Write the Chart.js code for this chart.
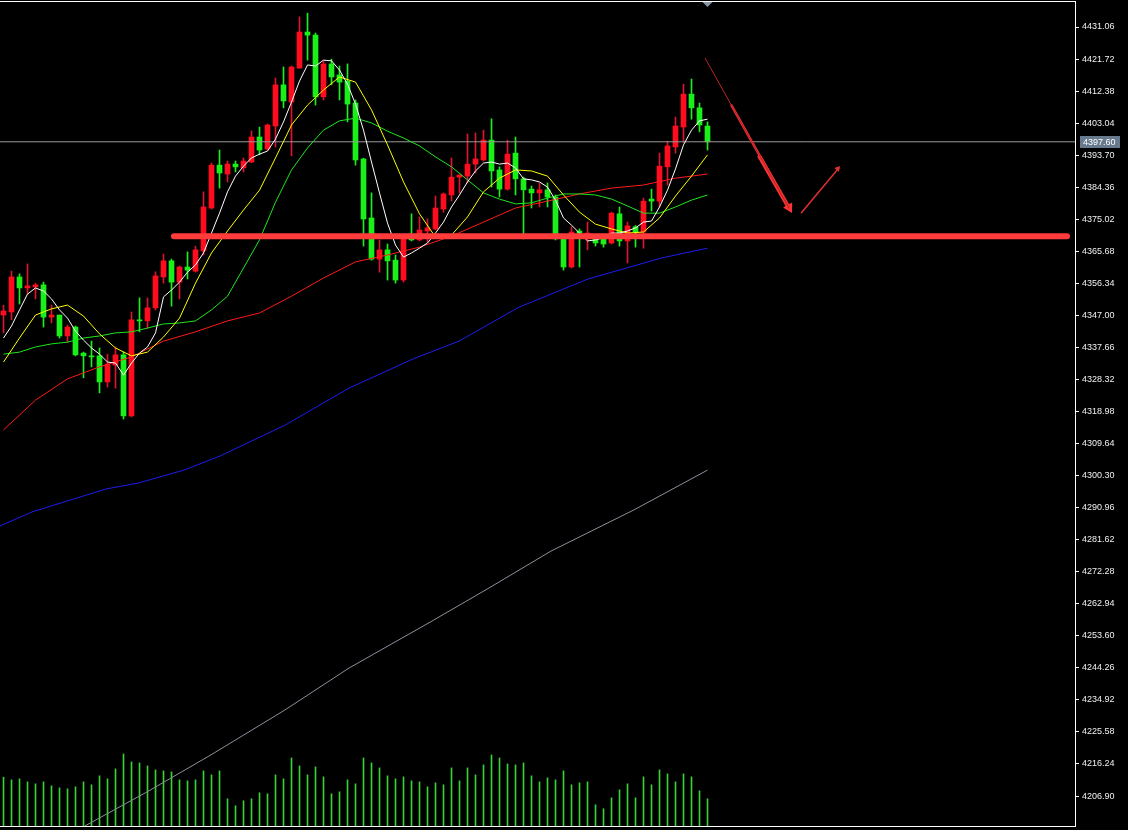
<!DOCTYPE html>
<html>
<head>
<meta charset="utf-8">
<script src="https://cdn.jsdelivr.net/npm/chart.js@4.4.0/dist/chart.umd.min.js"></script>
<style>
  html, body { margin: 0; padding: 0; background: #000; }
  canvas { display: block; }
</style>
</head>
<body>
<canvas id="chart" width="1128" height="830"></canvas>
<script>
// candles, oldest first (red = up, green = down)
const open = [4347.1,4348.0,4358.2,4355.0,4355.3,4355.9,4346.5,4347.1,4341.0,4343.6,
  4336.0,4335.2,4335.2,4327.6,4332.5,4335.5,4317.7,4345.7,4345.4,4349.2,
  4358.2,4362.9,4356.7,4361.1,4359.9,4365.8,4378.3,4390.8,4388.2,4391.1,
  4390.0,4391.7,4399.0,4395.5,4402.2,4414.2,4409.2,4419.1,4429.6,4428.7,
  4410.7,4420.3,4417.1,4415.3,4408.9,4392.6,4375.4,4363.4,4366.1,4363.1,
  4357.3,4369.6,4369.0,4371.6,4372.2,4378.0,4382.1,4387.3,4387.6,4391.1,
  4392.3,4398.1,4389.4,4383.8,4394.3,4386.8,4383.8,4382.7,4383.6,4381.5,
  4369.3,4361.1,4371.6,4370.1,4369.9,4369.6,4368.1,4376.6,4368.7,4372.8,
  4371.3,4380.9,4380.3,4390.3,4396.1,4401.9,4411.5,4407.5,4402.2];
const high = [4350.0,4359.9,4359.1,4362.0,4356.4,4356.7,4350.0,4347.1,4344.2,4343.9,
  4336.3,4339.5,4337.5,4335.7,4337.8,4336.3,4348.0,4352.1,4352.1,4359.7,
  4364.9,4363.4,4361.4,4365.5,4367.2,4383.0,4391.4,4395.2,4392.0,4392.0,
  4392.9,4400.8,4401.9,4402.8,4416.2,4419.4,4419.7,4434.0,4435.1,4429.3,
  4421.2,4421.7,4419.7,4420.3,4409.8,4392.8,4382.7,4369.0,4367.8,4364.6,
  4369.4,4376.6,4375.7,4375.1,4381.8,4382.7,4392.9,4388.0,4399.9,4400.2,
  4401.0,4404.3,4390.3,4398.1,4399.0,4387.3,4384.7,4385.6,4385.6,4382.1,
  4369.4,4372.8,4372.2,4374.2,4370.4,4370.7,4377.1,4378.6,4374.2,4373.2,
  4381.2,4383.8,4394.3,4397.8,4404.8,4414.4,4415.9,4408.9,4403.4];
const low = [4341.9,4345.7,4350.3,4353.2,4351.8,4343.6,4344.8,4340.4,4339.2,4335.2,
  4328.8,4332.0,4324.4,4326.1,4325.8,4316.8,4317.4,4342.2,4343.3,4348.6,
  4356.4,4349.7,4351.8,4357.6,4359.6,4364.6,4378.0,4384.1,4385.9,4388.8,
  4388.8,4391.5,4393.8,4395.2,4396.1,4407.5,4393.5,4419.0,4421.4,4408.3,
  4409.8,4414.2,4409.8,4403.4,4390.8,4367.2,4363.1,4359.6,4357.3,4356.4,
  4356.7,4368.7,4368.7,4368.4,4371.9,4377.1,4380.3,4382.7,4385.6,4388.5,
  4392.0,4384.4,4381.5,4383.5,4382.1,4369.3,4378.3,4378.6,4378.6,4369.0,
  4360.2,4360.8,4361.1,4366.1,4367.2,4366.9,4367.8,4367.2,4362.3,4366.9,
  4366.6,4377.4,4378.6,4385.0,4394.3,4397.5,4404.2,4400.5,4395.2];
const close = [4348.3,4358.2,4355.0,4355.6,4355.9,4346.5,4347.1,4341.0,4343.6,4335.5,
  4335.2,4334.9,4327.6,4332.8,4335.5,4317.7,4345.7,4345.4,4349.2,4358.5,
  4362.9,4356.7,4361.1,4360.2,4366.1,4378.6,4390.8,4388.5,4391.1,4390.3,
  4392.0,4399.0,4395.2,4402.5,4414.2,4409.5,4419.4,4429.6,4428.7,4410.7,
  4420.3,4416.5,4415.0,4408.6,4392.3,4375.1,4363.4,4366.1,4362.9,4357.3,
  4369.3,4369.0,4371.9,4372.5,4378.3,4382.4,4387.3,4387.9,4391.1,4392.6,
  4398.1,4389.1,4383.8,4394.0,4386.8,4383.6,4382.7,4383.6,4381.5,4369.3,
  4361.1,4371.3,4371.0,4371.0,4368.1,4367.8,4376.8,4368.7,4373.1,4371.3,
  4380.3,4380.3,4390.5,4396.4,4402.2,4411.5,4407.5,4402.5,4397.6];
const volume = [147,139,142,133,127,133,121,115,112,118,
  133,124,151,142,172,217,193,190,181,169,
  166,163,139,136,139,166,154,166,82,61,
  76,82,100,97,154,142,205,181,154,178,
  148,97,103,139,127,205,190,175,151,142,
  148,136,133,118,130,124,175,136,175,154,
  184,214,205,187,184,190,151,133,145,139,
  166,124,130,133,64,52,85,109,127,85,
  148,124,169,157,133,157,148,106,82];

// moving averages
const maWhite = [4340.4,4343.9,4348.6,4353.2,4355.0,4354.1,4351.8,4348.6,4346.2,4342.4,
  4339.8,4337.5,4335.7,4333.4,4333.1,4329.6,4333.1,4336.0,4337.8,4341.9,
  4352.4,4354.4,4356.7,4359.6,4361.7,4365.2,4371.0,4376.8,4383.0,4387.6,
  4390.5,4392.9,4394.0,4394.9,4398.4,4403.4,4409.2,4415.3,4420.0,4419.7,
  4421.4,4421.2,4418.5,4414.4,4408.6,4401.0,4391.7,4382.7,4373.9,4367.5,
  4364.0,4365.2,4366.6,4368.1,4371.0,4374.2,4378.6,4382.1,4385.9,4389.1,
  4391.4,4391.7,4391.1,4391.4,4390.0,4386.8,4386.5,4385.9,4384.4,4380.6,
  4375.4,4373.3,4371.0,4368.7,4369.0,4369.6,4371.0,4371.0,4371.6,4372.5,
  4374.2,4374.5,4378.6,4383.5,4389.7,4396.7,4401.0,4403.7,4404.2];
// every 2nd candle
const maYellow = [4333.4,4340.4,4347.1,4348.9,4350.0,4346.8,4341.6,4337.5,4335.2,4336.3,
  4340.7,4346.2,4356.4,4365.2,4371.6,4377.7,4383.5,4392.9,4402.5,4408.3,
  4412.7,4416.5,4415.0,4406.9,4396.7,4385.9,4376.6,4369.8,4370.4,4375.7,
  4383.0,4387.0,4389.4,4389.1,4387.6,4382.1,4377.1,4373.6,4372.2,4371.0,
  4371.3,4375.4,4381.8,4387.6,4393.8];
const maGreen = [4335.7,4336.3,4337.8,4338.7,4339.2,4340.4,4341.0,4341.9,4342.2,4343.3,
  4344.5,4344.8,4345.4,4348.6,4352.6,4360.8,4369.0,4380.0,4389.4,4395.8,
  4401.0,4403.7,4404.5,4403.1,4400.7,4398.7,4396.4,4393.2,4390.3,4386.5,
  4382.7,4380.9,4379.5,4379.8,4381.2,4382.4,4382.4,4382.1,4380.9,4378.9,
  4376.8,4376.8,4378.6,4380.6,4382.1];
// every 4th candle
const maRed = [4313.6,4322.3,4328.5,4332.0,4334.9,4339.5,4342.2,4345.4,4347.7,4352.6,
  4357.9,4362.6,4364.6,4366.9,4370.1,4374.2,4378.3,4380.3,4382.4,4384.1,
  4385.0,4387.0,4388.2];
const blueAt = [-0.44,3.56,7.56,12.81,16.81,22.56,27.06,35.19,43.19,51.19,56.94,64.44,73.06,82.19,88];
const maBlue = [4285.6,4289.7,4292.6,4296.4,4298.1,4301.9,4306.0,4315.0,4325.8,4334.3,4339.5,4349.4,4357.6,4363.7,4366.6];
const grayAt = [10.19,17.94,25.94,35.19,43.19,53.56,60.44,68.44,78.81,88];
const maGray = [4198.2,4208.1,4218.9,4232.0,4244.2,4257.9,4267.2,4278.3,4290.3,4301.9];

// hand drawn objects
const supportLevel = 4370.1;
const supportAt = [21.31, 132.94];
// down arrow: overlapping strokes, each from its start to the tip, so it thickens towards the tip
const shaftFromAt = [87.69, 91.0, 94.5];
const shaftFromY = [4422.0, 4408.2, 4393.3];
const shaftWidth = [1, 2.5, 4];
const shaftColor = ['#b82424', '#f03030', '#ff3434'];
const tipAt = 98.19, tipY = 4378.3;
const arrowUpAt = [99.69, 104.31];
const arrowUpY = [4376.8, 4389.7];
const headAt = [98.2, 104.29];
const headY = [4378.4, 4389.8];

const priceTicks = [4431.06,4421.72,4412.38,4403.04,4393.70,4384.36,4375.02,4365.68,4356.34,4347.00,
  4337.66,4328.32,4318.98,4309.64,4300.30,4290.96,4281.62,4272.28,4262.94,4253.60,
  4244.26,4234.92,4225.58,4216.24,4206.90];

const idx = open.map((_, i) => i);
const lastClose = close[close.length - 1];
const up = i => close[i] >= open[i];

const chartFrame = {
  id: 'chartFrame',
  beforeDraw(chart) {
    const ctx = chart.ctx;
    ctx.save();
    ctx.fillStyle = '#000';
    ctx.fillRect(0, 0, chart.width, chart.height);
    ctx.restore();
  },
  afterDraw(chart) {
    const { ctx, chartArea: a, scales } = chart;
    ctx.save();
    ctx.strokeStyle = '#fff';
    ctx.lineWidth = 1;
    ctx.beginPath();
    ctx.moveTo(0, a.top - 0.5); ctx.lineTo(a.right + 1, a.top - 0.5);
    ctx.moveTo(0, a.bottom + 0.5); ctx.lineTo(a.right + 1, a.bottom + 0.5);
    ctx.stroke();

    // last price tag
    const py = Math.round(scales.y.getPixelForValue(lastClose));
    ctx.fillStyle = '#687b8e';
    ctx.fillRect(a.right + 5, py - 6, 40, 12);
    ctx.fillStyle = '#fff';
    ctx.font = '9px "Liberation Sans", Arial, sans-serif';
    ctx.textBaseline = 'middle';
    ctx.fillText(lastClose.toFixed(2), a.right + 8, py + 0.5);

    // shift marker on the last bar
    const mx = scales.x.getPixelForValue(idx[idx.length - 1]);
    ctx.fillStyle = '#8896a4';
    ctx.beginPath();
    ctx.moveTo(mx - 5, a.top); ctx.lineTo(mx + 5, a.top); ctx.lineTo(mx, a.top + 5);
    ctx.fill();
    ctx.restore();
  }
};

const line = (data, color, order, extra) => Object.assign({
  type: 'line', data, borderColor: color, borderWidth: 1, pointRadius: 0,
  tension: 0, fill: false, order
}, extra || {});

const shafts = shaftFromAt.map((x, k) =>
  line([{ x, y: shaftFromY[k] }, { x: tipAt, y: tipY }], shaftColor[k], 0,
    { borderWidth: shaftWidth[k], borderCapStyle: 'round' }));

new Chart(document.getElementById('chart'), {
  type: 'bar',
  data: {
    datasets: [
      line(supportAt.map(x => ({ x, y: supportLevel })), '#ff3b3b', 0,
        { borderWidth: 6, borderCapStyle: 'round' }),
      ...shafts,
      line(arrowUpAt.map((x, k) => ({ x, y: arrowUpY[k] })), '#e23030', 0, { borderWidth: 1.5 }),
      {
        type: 'line', showLine: false, order: 0,
        data: headAt.map((x, k) => ({ x, y: headY[k] })),
        pointStyle: 'triangle', pointRadius: [6, 3.5], rotation: [151, 40],
        pointBackgroundColor: ['#ff3434', '#e23030'], pointBorderWidth: 0
      },
      line(idx.map(i => ({ x: i, y: maWhite[i] })), '#ffffff', 1),
      line(maYellow.map((v, k) => ({ x: k * 2, y: v })), '#ffff00', 2),
      line(maGreen.map((v, k) => ({ x: k * 2, y: v })), '#1ee61e', 3),
      line(maRed.map((v, k) => ({ x: k * 4, y: v })), '#ff1a1a', 4),
      line(blueAt.map((x, k) => ({ x, y: maBlue[k] })), '#1c1cf0', 5),
      line(grayAt.map((x, k) => ({ x, y: maGray[k] })), '#8a909c', 6),
      line([{ x: -1, y: lastClose }, { x: 140, y: lastClose }], '#9a9a9a', 7),
      {
        label: 'body', order: 8, grouped: false, barThickness: 5, minBarLength: 1,
        data: idx.map(i => ({ x: i, y: [open[i], close[i]] })),
        backgroundColor: idx.map(i => up(i) ? '#ff0d1f' : '#19ef19'),
        borderWidth: 0
      },
      {
        label: 'wick', order: 9, grouped: false, barThickness: 1,
        data: idx.map(i => ({ x: i, y: [low[i], high[i]] })),
        backgroundColor: idx.map(i => up(i) ? '#dc1430' : '#19ef19'),
        borderWidth: 0
      },
      {
        label: 'volume', order: 10, grouped: false, barThickness: 1, yAxisID: 'yv',
        data: idx.map(i => ({ x: i, y: volume[i] })),
        backgroundColor: '#36d236', borderWidth: 0
      }
    ]
  },
  options: {
    responsive: false,
    animation: false,
    layout: { autoPadding: false, padding: { top: 2, bottom: 4, left: 0, right: 0 } },
    plugins: { legend: { display: false }, tooltip: { enabled: false } },
    scales: {
      x: { type: 'linear', display: false, offset: false, min: -0.4375, max: 133.9375 },
      y: {
        position: 'right', min: 4198.16, max: 4438.35,
        afterBuildTicks: s => { s.ticks = priceTicks.map(v => ({ value: v })); },
        afterFit: s => { s.width = 53; s.paddingTop = 0; s.paddingBottom = 0; },
        ticks: {
          autoSkip: false, padding: 3, color: '#f0f0f0',
          font: { family: '"Liberation Sans", Arial, sans-serif', size: 9 },
          callback: v => Number(v).toFixed(2)
        },
        grid: { drawOnChartArea: false, tickLength: 4, color: '#ffffff' },
        border: { color: '#ffffff' }
      },
      yv: { display: false, min: 0, max: 2483 }
    }
  },
  plugins: [chartFrame]
});
</script>
</body>
</html>
